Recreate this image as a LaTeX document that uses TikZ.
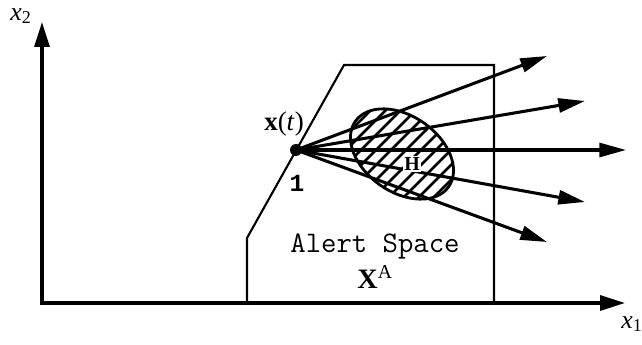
\documentclass[tikz,border=0pt]{standalone}
\usepackage{fontspec}
\setmainfont{Liberation Serif}
\newfontfamily\boldmono{Liberation Mono}
\usetikzlibrary{arrows.meta}
\begin{document}
\begin{tikzpicture}[x=0.03cm,y=-0.03cm,
  axis/.style={line width=2.8pt,-{Triangle[length=0.75cm,width=0.45cm]}},
  traj/.style={line width=2.6pt,-{Triangle[length=0.8cm,width=0.42cm]}},
  region/.style={line width=1.8pt,line join=miter},
  lbl/.style={inner sep=0pt}]
\useasboundingbox (0,0) rectangle (642,345);
% axes
\coordinate (o) at (42,303);
\coordinate (ytip) at (42,22);
\coordinate (xtip) at (625,303);
\draw[axis] (42,305) -- (ytip);
\draw[axis] (40,303) -- (xtip);
\node[lbl] (x2) at (21,16) {\fontsize{22}{24}\selectfont\textit{x}\textsubscript{2}};
\node[lbl] (x1) at (632,324) {\fontsize{22}{24}\selectfont\textit{x}\textsubscript{1}};
% alert space
\coordinate (a1) at (247,303);
\coordinate (a2) at (247,238);
\coordinate (a3) at (344,65);
\coordinate (a4) at (494,65);
\coordinate (a5) at (494,303);
\draw[region] (a1) -- (a2) -- (a3) -- (a4) -- (a5);
\node[lbl] (as) at (375,246) {\fontsize{25.5}{27}\selectfont\ttfamily Alert Space};
\node[lbl] (xa) at (375,277) {\fontsize{24}{26}\selectfont\textbf{X}\textsuperscript{A}};
% hatched set H
\begin{scope}
  \clip[rotate around={-35:(402,154)}] (402,154) ellipse [x radius=57, y radius=38];
  \foreach \i in {-10,...,10}
    \draw[line width=2.4pt] ({402+\i*15-90},244) -- ({402+\i*15+90},64);
\end{scope}
\draw[line width=2.4pt,rotate around={-35:(402,154)}] (402,154) ellipse [x radius=57, y radius=38];
% trajectories
\node[circle,fill=black,inner sep=0pt,minimum size=0.36cm] (p) at (296,150) {};
\coordinate (t1) at (547,56);
\coordinate (t2) at (585,101);
\coordinate (t3) at (626,150);
\coordinate (t4) at (585,202);
\coordinate (t5) at (547,242);
\foreach \t in {t1,t2,t3,t4,t5}
  \draw[traj] (p.center) -- (\t);
\node[lbl,fill=white,inner sep=1pt] (H) at (412,164) {\fontsize{17}{18}\selectfont\textbf{H}};
\node[lbl] (xt) at (284,124) {\fontsize{23}{24}\selectfont\textbf{x}(\textit{t})};
\node[lbl] (one) at (297,183) {\fontsize{21}{22}\selectfont\boldmono\bfseries 1};
\end{tikzpicture}
\end{document}
